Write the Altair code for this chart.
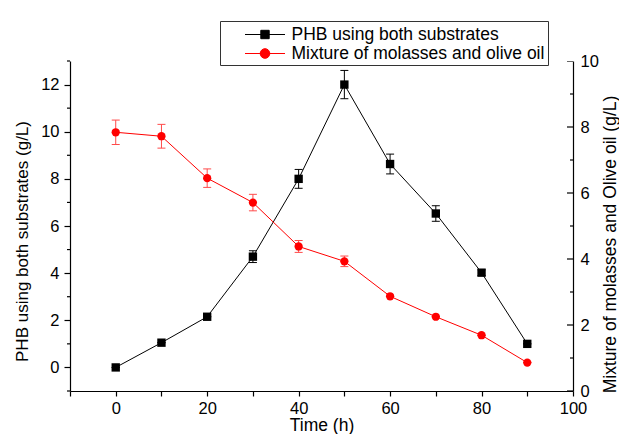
import altair as alt
import pandas as pd

# ---- data ----
time_h = [0, 10, 20, 30, 40, 50, 60, 70, 80, 90]
phb = [0.0, 1.05, 2.15, 4.7, 8.0, 12.0, 8.63, 6.53, 4.02, 1.0]
phb_err = [0.0, 0.0, 0.0, 0.25, 0.4, 0.6, 0.42, 0.33, 0.12, 0.0]
mix = [7.84, 7.72, 6.45, 5.71, 4.38, 3.93, 2.87, 2.25, 1.69, 0.86]
mix_err = [0.37, 0.36, 0.28, 0.25, 0.18, 0.16, 0.0, 0.0, 0.0, 0.0]

series = ["PHB using both substrates", "Mixture of molasses and olive oil"]
series_colors = ["#000000", "#ff0000"]

x_ticks = [-10, 0, 10, 20, 30, 40, 50, 60, 70, 80, 90, 100]
left_major = [0, 2, 4, 6, 8, 10, 12]
left_minor = [-1, 1, 3, 5, 7, 9, 11, 13]
right_major = [0, 2, 4, 6, 8, 10]
right_minor = [1, 3, 5, 7, 9]

TOTAL_W, TOTAL_H = 611, 426
FONT = "Liberation Sans"

phb_df = pd.DataFrame({
    "t": time_h, "v": phb,
    "lo": [a - b for a, b in zip(phb, phb_err)],
    "hi": [a + b for a, b in zip(phb, phb_err)],
})
mix_df = pd.DataFrame({
    "t": time_h, "v": mix,
    "lo": [a - b for a, b in zip(mix, mix_err)],
    "hi": [a + b for a, b in zip(mix, mix_err)],
})
lminor_df = pd.DataFrame({"v": left_minor})
rmajor_df = pd.DataFrame({"v": right_major})
rminor_df = pd.DataFrame({"v": right_minor})
legend_df = pd.DataFrame({"s": series})

xs = alt.Scale(domain=[-10, 100], nice=False, zero=False)
ls = alt.Scale(domain=[-1, 13], nice=False, zero=False)
rs = alt.Scale(domain=[0, 10], nice=False, zero=False)

x_axis = alt.Axis(values=x_ticks,
                  labelExpr="datum.value % 20 == 0 ? datum.label : ''",
                  title="Time (h)", tickSize=5, labelPadding=4,
                  titlePadding=0, labelFlush=False)
X = alt.X("t:Q", scale=xs, axis=x_axis)

left_axis = alt.Axis(orient="left", values=left_major, tickSize=6,
                     labelPadding=5, title="PHB using both substrates (g/L)",
                     titlePadding=9, titleY=180, titleFontSize=17,
                     labelFlush=False)
right_axis = alt.Axis(orient="right", values=right_major, ticks=False,
                      tickSize=0, labelPadding=7,
                      title="Mixture of molasses and Olive oil (g/L)",
                      titleAngle=270, titleBaseline="top",
                      titlePadding=3, titleY=183, labelFlush=False)


def YL(field):
    return alt.Y(field, type="quantitative", scale=ls, axis=left_axis)


def YR(field):
    return alt.Y(field, type="quantitative", scale=rs, axis=right_axis)


# ---- left (black) series ----
b_line = alt.Chart(phb_df).mark_line(color="black", strokeWidth=1).encode(
    x=X, y=YL("v"))
b_bar = alt.Chart(phb_df).mark_rule(color="black", strokeWidth=1).encode(
    x=X, y=YL("lo"), y2="hi:Q")
b_cap_hi = alt.Chart(phb_df).mark_tick(color="black", orient="horizontal",
                                        size=8, thickness=1, opacity=1).encode(
    x=X, y=YL("hi"))
b_cap_lo = alt.Chart(phb_df).mark_tick(color="black", orient="horizontal",
                                        size=8, thickness=1, opacity=1).encode(
    x=X, y=YL("lo"))
b_pts = alt.Chart(phb_df).mark_point(shape="square", filled=True, size=70,
                                      color="black", opacity=1).encode(
    x=X, y=YL("v"))
b_minor = alt.Chart(lminor_df).mark_rule(color="black", strokeWidth=1.2).encode(
    x=alt.value(-3), x2=alt.value(0), y=YL("v"))

left = alt.layer(b_line, b_bar, b_cap_hi, b_cap_lo, b_pts, b_minor)

# ---- right (red) series ----
ERR_RED = "#ff4a4a"
r_line = alt.Chart(mix_df).mark_line(color="#ff0000", strokeWidth=1).encode(
    x=X, y=YR("v"))
r_bar = alt.Chart(mix_df).mark_rule(color=ERR_RED, strokeWidth=1).encode(
    x=X, y=YR("lo"), y2="hi:Q")
r_cap_hi = alt.Chart(mix_df).mark_tick(color=ERR_RED, orient="horizontal",
                                        size=8, thickness=1, opacity=1).encode(
    x=X, y=YR("hi"))
r_cap_lo = alt.Chart(mix_df).mark_tick(color=ERR_RED, orient="horizontal",
                                        size=8, thickness=1, opacity=1).encode(
    x=X, y=YR("lo"))
r_pts = alt.Chart(mix_df).mark_point(shape="circle", filled=True, size=68,
                                      color="#ff0000", opacity=1).encode(
    x=X, y=YR("v"))
r_major_t = alt.Chart(rmajor_df).mark_tick(
    color="black", orient="horizontal", size=12, thickness=1.2, opacity=1,
    clip=True).encode(x=alt.value("width"), y=YR("v"))
r_minor_t = alt.Chart(rminor_df).mark_tick(
    color="black", orient="horizontal", size=6, thickness=1.2, opacity=1,
    clip=True).encode(x=alt.value("width"), y=YR("v"))

right = alt.layer(r_line, r_bar, r_cap_hi, r_cap_lo, r_pts, r_major_t, r_minor_t)

# ---- legend (line + marker symbols) ----
sym_square = "M-4.2,0M-2,0H2M-0.42,-0.42H0.42V0.42H-0.42Z"
sym_circle = "M-4.2,0M-2,0H2M0.48,0A0.48,0.48,0,1,1,-0.48,0A0.48,0.48,0,1,1,0.48,0Z"
leg = alt.Legend(title=None, orient="none", legendX=150, legendY=-40,
                 symbolSize=400, symbolOffset=31.5, labelOffset=16,
                 padding=3, rowPadding=0, labelFont=FONT, labelFontSize=17.5,
                 labelColor="black", strokeColor="#333333", fillColor="white",
                 symbolStrokeWidth=1, labelLimit=500)
legend_layer = alt.Chart(legend_df).transform_filter("false").mark_point(
    filled=True, opacity=1).encode(
    fill=alt.Fill("s:N", scale=alt.Scale(domain=series, range=series_colors), legend=leg),
    stroke=alt.Stroke("s:N", scale=alt.Scale(domain=series, range=series_colors), legend=leg),
    shape=alt.Shape("s:N", scale=alt.Scale(domain=series, range=[sym_square, sym_circle]), legend=leg),
)

chart = alt.layer(left, right, legend_layer).resolve_scale(
    y="independent"
).properties(
    width=TOTAL_W, height=TOTAL_H, background="white",
    autosize=alt.AutoSizeParams(type="fit", contains="padding"),
    padding={"left": 5, "top": 45, "right": 0, "bottom": 0},
).configure_view(
    stroke=None
).configure_axis(
    grid=False, domainColor="black", tickColor="black", labelColor="black",
    titleColor="black", labelFont=FONT, titleFont=FONT, labelFontSize=16.5,
    titleFontSize=17.5, titleFontWeight="normal", domainWidth=1.2, tickWidth=1.2,
)

chart.save("out.html", embed_options={"renderer": "svg", "actions": False})
